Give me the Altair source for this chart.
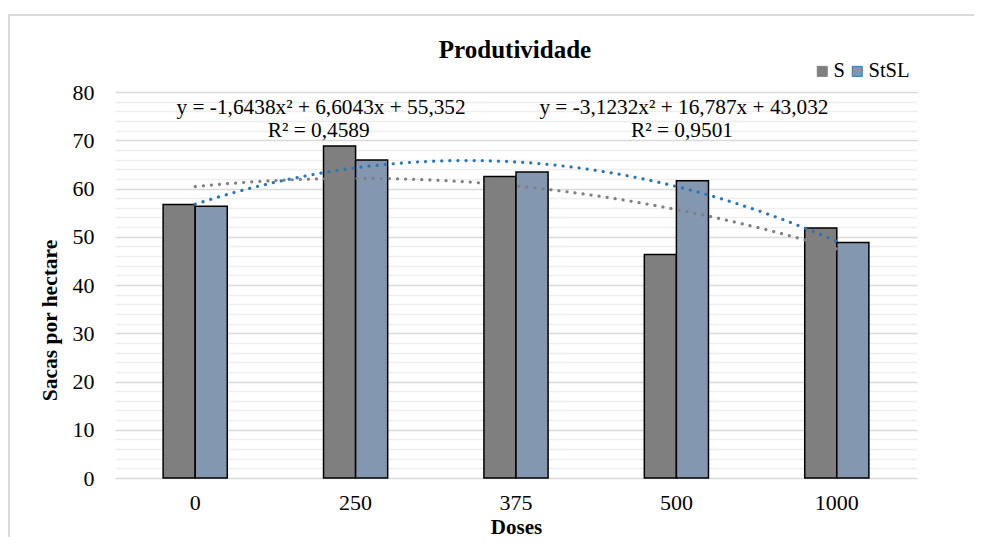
import altair as alt
import pandas as pd

title_text = "Produtividade"
doses = ["0", "250", "375", "500", "1000"]
series_names = ["S", "StSL"]
s_values = [56.7, 68.8, 62.5, 46.3, 51.8]
stsl_values = [56.3, 65.9, 63.4, 61.6, 48.8]

bar_colors = ["#7f7f7f", "#8497b0"]
trend_colors = ["#808080", "#2e75b6"]

equations = [
    "y = -1,6438x² + 6,6043x + 55,352",
    "R² = 0,4589",
    "y = -3,1232x² + 16,787x + 43,032",
    "R² = 0,9501",
]
eq_x = [1.785, 1.770, 4.047, 4.035]
eq_y = [75.4, 70.6, 75.4, 70.6]

rows = []
for i, d in enumerate(doses):
    rows.append(dict(dose=d, idx=i + 1, series="S", value=s_values[i]))
    rows.append(dict(dose=d, idx=i + 1, series="StSL", value=stsl_values[i]))
df = pd.DataFrame(rows)
ann_df = pd.DataFrame({"label": equations, "ax": eq_x, "ay": eq_y})

FONT = "Liberation Serif"
W, H = 802, 386
y_scale = alt.Scale(domain=[0, 80], nice=False, zero=True)
q_x_scale = alt.Scale(domain=[0.5, 5.5], nice=False, zero=False)
major = list(range(0, 81, 10))
minor = [v for v in range(0, 81, 2) if v % 10]

frame = alt.Chart(alt.Data(values=[{"a": 1}])).mark_rect(
    filled=False, stroke="#d9d9d9", strokeWidth=2
).encode(
    x=alt.value(-106), x2=alt.value(W + 300), y=alt.value(-77), y2=alt.value(H + 300)
)

title = alt.Chart(alt.Data(values=[{"t": title_text}])).mark_text(
    font=FONT, fontSize=25, fontWeight="bold", color="black", baseline="alphabetic", align="center"
).encode(x=alt.value(W / 2 - 1), y=alt.value(-34), text="t:N")

bars = alt.Chart(df).mark_bar(stroke="black", strokeWidth=1.5).encode(
    x=alt.X(
        "dose:N",
        sort=doses,
        scale=alt.Scale(paddingInner=0.6, paddingOuter=0.3),
        axis=alt.Axis(
            title="Doses", labelAngle=0, ticks=False, domain=False, grid=False,
            labelFontSize=22, labelPadding=14,
            titleFontSize=21, titleFontWeight="bold", titleY=55, titleX=W / 2,
            titleBaseline="alphabetic", titleAlign="center",
        ),
    ),
    xOffset=alt.XOffset("series:N", sort=series_names,
                        scale=alt.Scale(paddingInner=0, paddingOuter=0)),
    y=alt.Y(
        "value:Q",
        scale=y_scale,
        axis=alt.Axis(
            orient="left", values=major, title="Sacas por hectare", ticks=False, domain=False,
            grid=True, gridColor="#d9d9d9", gridWidth=1.5,
            labelFontSize=22, labelPadding=21,
            titleFontSize=21.5, titleFontWeight="bold", titleAngle=270,
            titleX=-65, titleY=228, titleAlign="center", titleBaseline="middle",
        ),
    ),
    fill=alt.Fill(
        "series:N",
        scale=alt.Scale(domain=series_names, range=bar_colors),
        legend=alt.Legend(
            title=None, orient="none", legendX=697, legendY=-31, direction="horizontal",
            symbolType="square", symbolSize=100, symbolStrokeColor="black",
            symbolStrokeWidth=1, labelFont=FONT, labelFontSize=20.5, labelColor="black",
            columnPadding=2, labelOffset=1,
        ),
    ),
)

trend = alt.Chart(df).transform_regression(
    "idx", "value", method="poly", order=2, groupby=["series"], extent=[1, 5]
).mark_line(strokeDash=[0.1, 8], strokeCap="round", strokeWidth=3.2).encode(
    x=alt.X("idx:Q", scale=q_x_scale, axis=None),
    y=alt.Y(
        "value:Q",
        scale=y_scale,
        axis=alt.Axis(
            orient="left", values=minor, title=None, labels=False, ticks=False,
            domain=False, grid=True, gridColor="#eeeeee", gridWidth=1.5,
        ),
    ),
    stroke=alt.Stroke("series:N", scale=alt.Scale(domain=series_names, range=trend_colors),
                      legend=None),
    detail="series:N",
)

ann = alt.Chart(ann_df).mark_text(
    font=FONT, fontSize=21.3, color="black", baseline="alphabetic"
).encode(
    x=alt.X("ax:Q", scale=q_x_scale, axis=None),
    y=alt.Y("ay:Q", scale=y_scale, axis=None),
    text="label:N",
)

chart = alt.layer(frame, bars, trend, ann, title).resolve_scale(
    x="independent"
).resolve_axis(y="independent").properties(
    width=W,
    height=H,
    autosize=alt.AutoSizeParams(type="none"),
    padding={"left": 107, "top": 84, "right": 57, "bottom": 59},
).configure_view(strokeWidth=0).configure_axis(
    labelFont=FONT, titleFont=FONT, labelColor="black", titleColor="black"
).configure_legend(
    labelFont=FONT, titleFont=FONT, labelColor="black"
).configure_text(font=FONT)

chart.save("out.html", embed_options={"renderer": "svg", "actions": False})
